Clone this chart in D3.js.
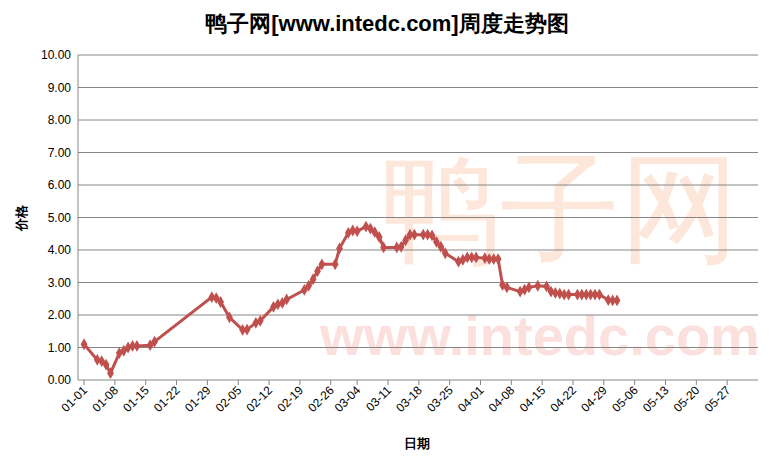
<!DOCTYPE html>
<html><head><meta charset="utf-8">
<script src="https://cdn.jsdelivr.net/npm/d3@7/dist/d3.min.js"></script>
<style>body{margin:0;background:#fff}text{font-family:"Liberation Sans",Arial,sans-serif}</style>
</head><body><svg id="c" width="774" height="468"></svg>
<script>
const dates=["01-01","01-04","01-05","01-06","01-07","01-09","01-10","01-11","01-12","01-13","01-16","01-17","01-30","01-31","02-01","02-03","02-06","02-07","02-09","02-10","02-13","02-14","02-15","02-16","02-20","02-21","02-22","02-23","02-24","02-27","02-28","03-02","03-03","03-04","03-06","03-07","03-08","03-09","03-10","03-13","03-14","03-15","03-16","03-17","03-19","03-20","03-21","03-22","03-23","03-24","03-27","03-28","03-29","03-30","03-31","04-02","04-03","04-04","04-05","04-06","04-07","04-10","04-11","04-12","04-14","04-16","04-17","04-18","04-19","04-20","04-21","04-23","04-24","04-25","04-26","04-27","04-28","04-30","05-01","05-02"];
const prices=[1.10,0.62,0.58,0.47,0.21,0.83,0.90,1.00,1.05,1.05,1.07,1.18,2.55,2.52,2.40,1.93,1.54,1.55,1.76,1.82,2.25,2.33,2.37,2.48,2.77,2.90,3.10,3.35,3.56,3.56,4.05,4.53,4.60,4.58,4.72,4.66,4.55,4.40,4.08,4.08,4.10,4.30,4.47,4.47,4.47,4.47,4.45,4.25,4.10,3.90,3.64,3.70,3.77,3.77,3.77,3.75,3.72,3.72,3.72,2.92,2.85,2.72,2.78,2.85,2.90,2.88,2.72,2.68,2.66,2.63,2.63,2.63,2.63,2.63,2.63,2.63,2.63,2.46,2.45,2.45];
const yTicks=[0,1,2,3,4,5,6,7,8,9,10];
const xTicks=["01-01","01-08","01-15","01-22","01-29","02-05","02-12","02-19","02-26","03-04","03-11","03-18","03-25","04-01","04-08","04-15","04-22","04-29","05-06","05-13","05-20","05-27"];
const pd=s=>new Date(2013,+s.slice(0,2)-1,+s.slice(3));
const svg=d3.select("#c");
const L=78,R=758,T=55,B=380;
const x=d3.scaleTime().domain([new Date(2012,11,30,15),new Date(2013,5,3)]).range([L,R]);
const y=d3.scaleLinear().domain([0,10]).range([B,T]);
svg.append("text").attr("x",540).attr("y",355).attr("text-anchor","middle").attr("font-size",56).attr("font-weight","bold").attr("fill","#fbe0de").text("www.intedc.com");
svg.append("text").attr("x",560).attr("y",250).attr("text-anchor","middle").attr("font-size",120).attr("fill","#fde6da").text("鸭子网");
svg.append("g").selectAll("line").data(yTicks).join("line").attr("x1",L).attr("x2",R).attr("y1",d=>y(d)).attr("y2",d=>y(d)).attr("stroke","#868686");
svg.append("line").attr("x1",L).attr("x2",L).attr("y1",T).attr("y2",B).attr("stroke","#868686");
svg.append("g").selectAll("text").data(yTicks).join("text").attr("x",L-7).attr("y",d=>y(d)+4).attr("text-anchor","end").attr("font-size",12).text(d=>d.toFixed(2));
svg.append("g").selectAll("line").data(xTicks).join("line").attr("x1",d=>x(pd(d))).attr("x2",d=>x(pd(d))).attr("y1",B).attr("y2",B+5).attr("stroke","#868686");
svg.append("g").selectAll("text").data(xTicks).join("text").attr("transform",d=>`translate(${x(pd(d))+4},${B+11}) rotate(-45)`).attr("text-anchor","end").attr("font-size",12).text(d=>d);
const pts=dates.map((d,i)=>[x(pd(d)),y(prices[i])]);
svg.append("path").attr("d",d3.line()(pts)).attr("fill","none").attr("stroke","#c0504d").attr("stroke-width",3);
svg.append("g").selectAll("path").data(pts).join("path").attr("transform",d=>`translate(${d[0]},${d[1]})`).attr("d",d3.symbol(d3.symbolDiamond,40)()).attr("fill","#c0504d");
svg.append("text").attr("x",387).attr("y",31).attr("text-anchor","middle").attr("font-size",22).attr("font-weight","bold").attr("font-family","Noto Sans CJK SC").text("鸭子网[www.intedc.com]周度走势图");
svg.append("text").attr("x",417).attr("y",448).attr("text-anchor","middle").attr("font-size",13).attr("font-weight","bold").attr("font-family","Noto Sans CJK SC").text("日期");
svg.append("text").attr("transform","translate(26,218) rotate(-90)").attr("text-anchor","middle").attr("font-size",13).attr("font-weight","bold").attr("font-family","Noto Sans CJK SC").text("价格");
</script></body></html>
